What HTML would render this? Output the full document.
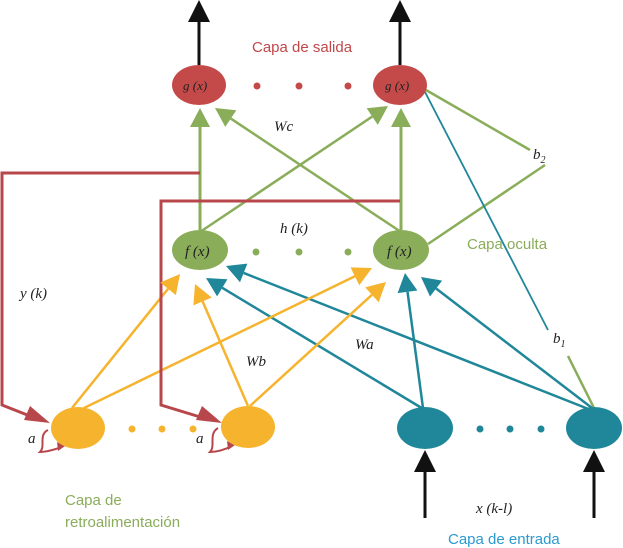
<!DOCTYPE html>
<html><head><meta charset="utf-8"><style>
body{margin:0;background:#fff;width:623px;height:548px;overflow:hidden}
svg{display:block}
.lbl{font-family:"Liberation Sans",sans-serif;font-size:15px}
.it{font-family:"Liberation Serif",serif;font-style:italic;font-size:15px;fill:#222}
</style></head><body>
<svg id="s" width="623" height="548" viewBox="0 0 623 548">
<g id="lines"></g>
<polyline points="200,173 2,173 2,405 40,420" fill="none" stroke="#b8474b" stroke-width="3"/>
<polyline points="400,201 161,201 161,405 210,420" fill="none" stroke="#b8474b" stroke-width="3"/>
<polygon points="50,423 30,406 24,420" fill="#b8474b"/>
<polygon points="222,423 202,406 196,420" fill="#b8474b"/>
<path d="M48,430 C38,435 46,446 40,452 C48,452 56,449 62,447" fill="none" stroke="#b8474b" stroke-width="2"/>
<polygon points="65,446 57,442 58,451" fill="#b8474b"/>
<path d="M218,428 C208,434 216,446 210,452 C218,452 226,449 232,446" fill="none" stroke="#b8474b" stroke-width="2"/>
<polygon points="235,445 227,441 228,450" fill="#b8474b"/>
<g id="arrows"></g>
<ellipse cx="199" cy="85" rx="27" ry="20" fill="#c44a4a"/>
<ellipse cx="400" cy="85" rx="27" ry="20" fill="#c44a4a"/>
<ellipse cx="200" cy="250" rx="28" ry="20" fill="#8aad5a"/>
<ellipse cx="401" cy="250" rx="28" ry="20" fill="#8aad5a"/>
<ellipse cx="78" cy="428" rx="27" ry="21" fill="#f6b32d"/>
<ellipse cx="248" cy="427" rx="27" ry="21" fill="#f6b32d"/>
<ellipse cx="425" cy="428" rx="28" ry="21" fill="#1f8799"/>
<ellipse cx="594" cy="428" rx="28" ry="21" fill="#1f8799"/>
<g fill="#c44a4a"><circle cx="257" cy="86" r="3.5"/><circle cx="299" cy="86" r="3.5"/><circle cx="348" cy="86" r="3.5"/></g>
<g fill="#8aad5a"><circle cx="256" cy="252" r="3.5"/><circle cx="299" cy="252" r="3.5"/><circle cx="348" cy="252" r="3.5"/></g>
<g fill="#f6b32d"><circle cx="132" cy="429" r="3.5"/><circle cx="162" cy="429" r="3.5"/><circle cx="193" cy="429" r="3.5"/></g>
<g fill="#1f8799"><circle cx="480" cy="429" r="3.5"/><circle cx="510" cy="429" r="3.5"/><circle cx="541" cy="429" r="3.5"/></g>
<text class="it" x="183" y="90" style="font-size:13px" fill="#3a2020">g (x)</text>
<text class="it" x="385" y="90" style="font-size:13px" fill="#3a2020">g (x)</text>
<text class="it" x="185" y="256">f (x)</text>
<text class="it" x="387" y="256">f (x)</text>
<text class="lbl" x="252" y="52" fill="#c0474a">Capa de salida</text>
<text class="it" x="274" y="131">Wc</text>
<text class="it" x="280" y="233">h (k)</text>
<text class="lbl" x="467" y="249" fill="#8aad5a">Capa oculta</text>
<text class="it" x="20" y="298">y (k)</text>
<text class="it" x="246" y="366">Wb</text>
<text class="it" x="355" y="349">Wa</text>
<text class="it" x="553" y="343">b<tspan font-size="10" dy="4">1</tspan></text>
<text class="it" x="533" y="159">b<tspan font-size="10" dy="4">2</tspan></text>
<text class="it" x="28" y="443">a</text>
<text class="it" x="196" y="443">a</text>
<text class="lbl" x="65" y="505" fill="#8aad5a">Capa de</text>
<text class="lbl" x="65" y="527" fill="#8aad5a">retroalimentación</text>
<text class="it" x="476" y="513">x (k-l)</text>
<text class="lbl" x="448" y="544" fill="#2a9ad0">Capa de entrada</text>
</svg>
<script>
const NS="http://www.w3.org/2000/svg";
const L=document.getElementById('lines'),A=document.getElementById('arrows');
function line(x1,y1,x2,y2,c,w){const e=document.createElementNS(NS,'line');e.setAttribute('x1',x1);e.setAttribute('y1',y1);e.setAttribute('x2',x2);e.setAttribute('y2',y2);e.setAttribute('stroke',c);e.setAttribute('stroke-width',w);L.appendChild(e);}
function arrow(x1,y1,x2,y2,c,w,hl,hw){const dx=x2-x1,dy=y2-y1,d=Math.hypot(dx,dy),ux=dx/d,uy=dy/d;const bx=x2-ux*hl,by=y2-uy*hl;line(x1,y1,bx,by,c,w);const p=document.createElementNS(NS,'polygon');p.setAttribute('points',`${x2},${y2} ${bx-uy*hw},${by+ux*hw} ${bx+uy*hw},${by-ux*hw}`);p.setAttribute('fill',c);A.appendChild(p);}
const G="#8aad5a",T="#1f8799",Y="#f6b32d",K="#111";
arrow(199,65,199,0,K,3,22,11);arrow(400,65,400,0,K,3,22,11);
arrow(425,518,425,450,K,3,22,11);arrow(594,518,594,450,K,3,22,11);
arrow(200,230,200,108,G,3,19,10);arrow(401,230,401,108,G,3,19,10);
arrow(200,232,388,106,G,2.5,19,10);arrow(401,232,215,108,G,2.5,19,10);
line(426,90,530,150,G,2.5);line(428,244,545,165,G,2.5);line(568,356,594,408,G,2.5);
line(425,92,548,330,T,1.8);
arrow(425,410,206,278,T,2.5,19,10);arrow(591,410,226,266,T,2.5,19,10);
arrow(423,408,405,273,T,2.5,19,10);arrow(592,408,421,277,T,2.5,19,10);
arrow(72,408,180,274,Y,2.5,19,10);arrow(84,408,372,268,Y,2.5,19,10);
arrow(248,406,195,284,Y,2.5,19,10);arrow(250,406,386,282,Y,2.5,19,10);
</script>
</body></html>
